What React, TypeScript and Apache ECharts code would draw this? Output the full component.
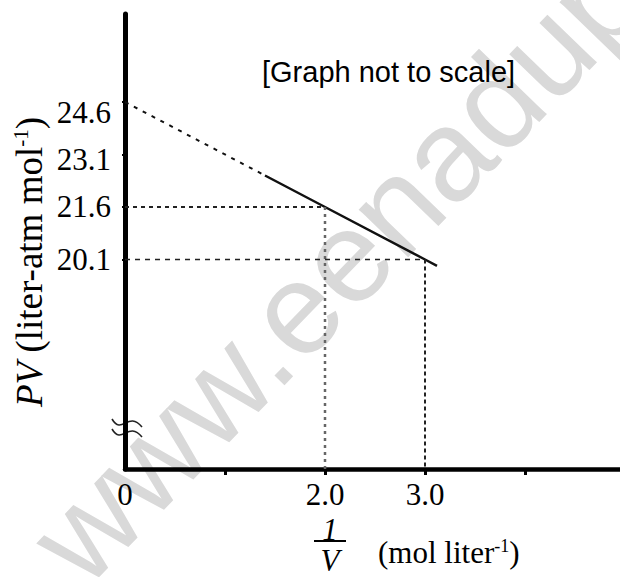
import React, { useEffect, useRef } from "react";
import * as echarts from "echarts";

// ---- data ----
const yTickValues = [20.1, 21.6, 23.1, 24.6];
const xTickValues = [1, 2, 3, 4];
const xLabelValues = [0, 2, 3];
// extrapolated (dashed) part of PV vs 1/V
const extrapolated: [number, number][] = [
  [0, 24.6],
  [1.4, 22.5],
];
// measured (solid) part of PV vs 1/V
const measured: [number, number][] = [
  [1.4, 22.5],
  [2.0, 21.6],
  [3.0, 20.1],
  [3.12, 19.92],
];
const guide1: [number, number][] = [
  [0, 21.6],
  [2.0, 21.6],
];
const guide2: [number, number][] = [
  [0, 20.1],
  [3.0, 20.1],
];

const Y_MIN = 14.114;
const Y_MAX = 27.114;
const X_MAX = 4.95;

const SERIF = "'Liberation Serif', 'Times New Roman', serif";
const SANS = "'Liberation Sans', Arial, sans-serif";

export default function App() {
  const ref = useRef<HTMLDivElement>(null);
  useEffect(() => {
    if (!ref.current) return;
    const chart = echarts.init(ref.current, undefined, { renderer: "svg" });
    const vline = (x: number, y: number): [number, number][] => [
      [x, y],
      [x, Y_MIN],
    ];
    chart.setOption({
      animation: false,
      backgroundColor: "#ffffff",
      grid: { left: 125, right: 0, top: 14, bottom: 108, containLabel: false },
      xAxis: {
        type: "value",
        min: 0,
        max: X_MAX,
        splitLine: { show: false },
        axisLine: { show: true, lineStyle: { color: "#000", width: 4.5 } },
        axisTick: {
          show: true,
          customValues: xTickValues,
          length: 6,
          inside: false,
          lineStyle: { color: "#000", width: 3 },
        },
        axisLabel: {
          customValues: xLabelValues,
          margin: 10,
          color: "#000",
          fontFamily: SERIF,
          fontSize: 31,
          formatter: (v: number) => (v === 0 ? "0" : v.toFixed(1)),
        },
      },
      yAxis: {
        type: "value",
        min: Y_MIN,
        max: Y_MAX,
        splitLine: { show: false },
        axisLine: { show: true, lineStyle: { color: "#000", width: 5 } },
        axisTick: {
          show: true,
          customValues: yTickValues,
          length: 3,
          inside: false,
          lineStyle: { color: "#000", width: 2 },
        },
        axisLabel: {
          customValues: yTickValues,
          margin: 14,
          color: "#000",
          fontFamily: SERIF,
          fontSize: 31,
          formatter: (v: number) => {
            const s = v.toFixed(1);
            if (Math.abs(v - 24.6) < 0.01) return "{a|" + s + "}";
            if (Math.abs(v - 23.1) < 0.01) return "{b|" + s + "}";
            return s;
          },
          rich: {
            a: { fontFamily: SERIF, fontSize: 31, color: "#000", padding: [22, 0, 0, 0] },
            b: { fontFamily: SERIF, fontSize: 31, color: "#000", padding: [10, 0, 0, 0] },
          },
        },
      },
      graphic: [
        {
          type: "text",
          z: -10,
          x: 100,
          y: 605,
          rotation: (46 * Math.PI) / 180,
          silent: true,
          style: {
            text: "www.eenadupratibha.net",
            font: `130px ${SANS}`,
            fill: "#d9d9d9",
            align: "left",
            verticalAlign: "bottom",
          },
        },
        {
          type: "text",
          x: 262,
          y: 72,
          style: {
            text: "[Graph not to scale]",
            font: `29px ${SANS}`,
            fill: "#000",
            align: "left",
            verticalAlign: "middle",
          },
        },
        {
          type: "text",
          x: 29,
          y: 262,
          rotation: Math.PI / 2,
          style: {
            text: "{i|PV}{n| (liter-atm mol}{s|-1}{n|)}",
            align: "center",
            verticalAlign: "middle",
            fill: "#000",
            rich: {
              i: { fontFamily: SERIF, fontSize: 37, fontStyle: "italic", fill: "#000" },
              n: { fontFamily: SERIF, fontSize: 37, fill: "#000" },
              s: { fontFamily: SERIF, fontSize: 21, fill: "#000", verticalAlign: "top" },
            },
          },
        },
        {
          type: "text",
          x: 330,
          y: 545,
          style: {
            text: "{f|1}\n{f|V}",
            align: "center",
            verticalAlign: "middle",
            fill: "#000",
            rich: {
              f: {
                fontFamily: SERIF,
                fontSize: 31,
                fontStyle: "italic",
                lineHeight: 31,
                fill: "#000",
                align: "center",
              },
            },
          },
        },
        {
          type: "line",
          shape: { x1: 314, y1: 541, x2: 346, y2: 541 },
          style: { stroke: "#000", lineWidth: 2 },
        },
        {
          type: "text",
          x: 378,
          y: 552,
          style: {
            text: "{n|(mol liter}{s|-1}{n|)}",
            align: "left",
            verticalAlign: "middle",
            fill: "#000",
            rich: {
              n: { fontFamily: SERIF, fontSize: 31, fill: "#000" },
              s: { fontFamily: SERIF, fontSize: 18, fill: "#000", verticalAlign: "top" },
            },
          },
        },
        {
          type: "bezierCurve",
          shape: { x1: 112, y1: 419, cpx1: 122, cpy1: 436, cpx2: 128, cpy2: 410, x2: 142, y2: 427 },
          style: { stroke: "#222", lineWidth: 1.6, fill: null },
        },
        {
          type: "bezierCurve",
          shape: { x1: 112, y1: 429, cpx1: 122, cpy1: 446, cpx2: 128, cpy2: 420, x2: 142, y2: 437 },
          style: { stroke: "#222", lineWidth: 1.6, fill: null },
        },
      ],
      series: [
        {
          type: "line",
          data: extrapolated,
          symbol: "none",
          lineStyle: { color: "#111", width: 2, type: [4, 6] },
          z: 3,
        },
        {
          type: "line",
          data: measured,
          symbol: "none",
          lineStyle: { color: "#111", width: 2.5, type: "solid" },
          z: 3,
        },
        {
          type: "line",
          data: guide1,
          symbol: "none",
          lineStyle: { color: "#222", width: 2, type: [4, 4] },
        },
        {
          type: "line",
          data: vline(2.0, 21.6),
          symbol: "none",
          lineStyle: { color: "#666", width: 2.5, type: [3, 4] },
        },
        {
          type: "line",
          data: guide2,
          symbol: "none",
          lineStyle: { color: "#222", width: 1.6, type: [5, 5] },
        },
        {
          type: "line",
          data: vline(3.0, 20.1),
          symbol: "none",
          lineStyle: { color: "#222", width: 2, type: [4, 3] },
        },
      ],
    });
    return () => chart.dispose();
  }, []);
  return (
    <div
      ref={ref}
      style={{ position: "fixed", left: 0, top: 0, width: 620, height: 577 }}
    />
  );
}
